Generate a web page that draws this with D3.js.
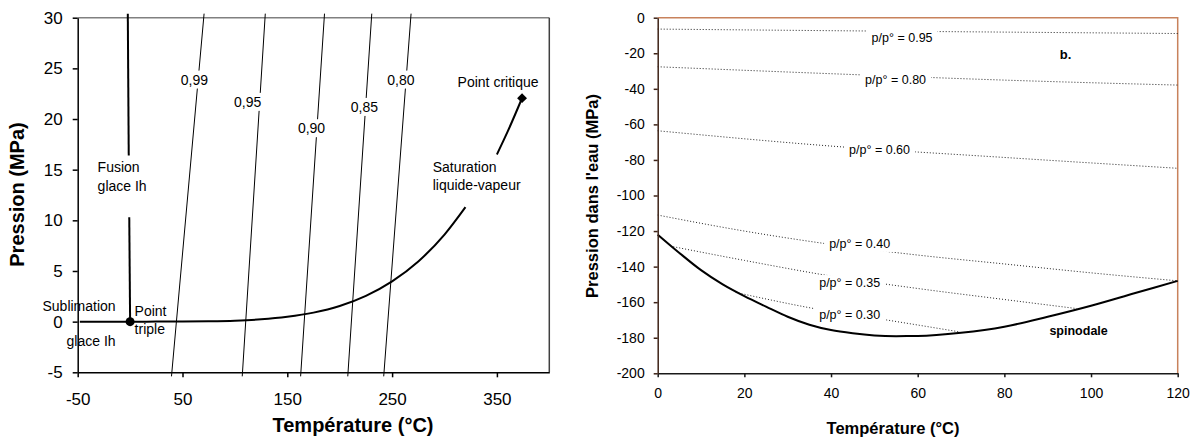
<!DOCTYPE html>
<html>
<head>
<meta charset="utf-8">
<script src="https://cdn.jsdelivr.net/npm/d3@7"></script>
<style>
  body { margin: 0; background: #fff; }
  svg text { font-family: "Liberation Sans", Arial, sans-serif; fill: #000; }
</style>
</head>
<body>
<svg id="chart" width="1199" height="439"></svg>
<script>
// ---- left panel : phase diagram (T in °C, P in MPa)
const satLowT = [0.01, 25, 50, 75, 100, 125, 150, 175, 200, 225, 250, 275, 300, 320];
const satLowP = [0.0006, 0.003, 0.012, 0.039, 0.10, 0.23, 0.48, 0.89, 1.55, 2.55, 3.98, 5.94, 8.59, 11.3];
const satUpT = [350, 360, 374];
const satUpP = [16.5, 18.7, 22.06];
const fusionLowT = [0.01, -0.8];
const fusionLowP = [0, 10.3];
const fusionUpT = [-1.3, -2.2];
const fusionUpP = [16.4, 30.4];
const sublT = [-48, 0.01];
const sublP = [0, 0];
const triplePoint = [0.01, 0];
const criticalPoint = [374, 22.06];
const isoNames = ["0,99", "0,95", "0,90", "0,85", "0,80"];
const isoTopT = [70.6, 129, 185.5, 230.6, 268.1];
const isoBotT = [39.5, 107, 162.7, 207.7, 242];
const isoTopP = 30.4;
const isoBotP = -5.4;
const isoLabelT = [61.4, 112.2, 173.1, 223.6, 258.4];
const isoLabelP = [23.4, 21.2, 18.6, 20.7, 23.4];
const leftXTicks = [-50, 50, 150, 250, 350];
const leftYTicks = [-5, 0, 5, 10, 15, 20, 25, 30];

// ---- right panel : water pressure vs temperature
const spinT = [0, 5, 10, 15, 20, 25, 30, 35, 40, 45, 50, 55, 60, 70, 80, 90, 100, 110, 120];
const spinP = [-122, -132.3, -142, -150, -156.6, -162.5, -168.2, -172.7, -175.7, -177.5, -178.7, -179.1, -179, -177.2, -173.8, -168.2, -162, -155, -148];
const rhNames = ["p/p° = 0.95", "p/p° = 0.80", "p/p° = 0.60", "p/p° = 0.40", "p/p° = 0.35", "p/p° = 0.30"];
const rh95T = [0, 40, 80, 120], rh95P = [-6.4, -7.3, -8.1, -8.9];
const rh80T = [0, 40, 80, 120], rh80P = [-27.6, -31.5, -35.1, -37.9];
const rh60T = [0, 40, 80, 120], rh60P = [-63.6, -72.2, -78.6, -84.7];
const rh40T = [0, 20, 40, 60, 80, 100, 120], rh40P = [-111, -120, -127.5, -133.5, -138.5, -143.5, -148];
const rh35T = [3.6, 20, 40, 60, 80, 96.7], rh35P = [-128.8, -136.5, -145.3, -152.3, -158.5, -163.6];
const rh30T = [18, 35.9, 52.8, 69.4], rh30P = [-154.5, -163.5, -170, -176.6];
const rhLabelT = [56.4, 54.9, 51.2, 46.6, 44.3, 44.3];
const rhLabelP = [-13.4, -37.3, -76.4, -129.5, -151.5, -169.2];
const rightXTicks = [0, 20, 40, 60, 80, 100, 120];
const rightYTicks = d3.range(-200, 1, 20);

const zip = (xs, ys) => xs.map((x, i) => [x, ys[i]]);
const plain = (d) => String(d); // ascii hyphen for negatives, as in the original
const svg = d3.select("#chart");

// ================= left panel
const xL = d3.scaleLinear().domain([-50, 400]).range([77.7, 549.3]);
const yL = d3.scaleLinear().domain([-5, 30]).range([372.3, 17.7]);
const gL = svg.append("g");
const lineL = d3.line().x((d) => xL(d[0])).y((d) => yL(d[1]));

// frame
gL.append("line")
  .attr("x1", xL(-50)).attr("x2", xL(400))
  .attr("y1", yL(30)).attr("y2", yL(30))
  .style("stroke", "#808080").style("stroke-width", 1.5);
gL.append("line")
  .attr("x1", xL(400)).attr("x2", xL(400))
  .attr("y1", yL(30)).attr("y2", yL(-5))
  .style("stroke", "#404040").style("stroke-width", 1.5);

const axL = gL.append("g")
  .attr("transform", `translate(0,${yL(-5)})`)
  .call(d3.axisBottom(xL).tickValues(leftXTicks).tickFormat(plain).tickSize(5).tickPadding(16).tickSizeOuter(0));
const ayL = gL.append("g")
  .attr("transform", `translate(${xL(-50)},0)`)
  .call(d3.axisLeft(yL).tickValues(leftYTicks).tickFormat(plain).tickSize(5).tickPadding(10).tickSizeOuter(0));
[axL, ayL].forEach((a) => {
  a.attr("font-family", null).attr("font-size", 17);
  a.selectAll("path,line").style("stroke", "#000").style("stroke-width", 1.5);
});

// iso-activity lines (thin)
gL.selectAll(".iso")
  .data(isoNames)
  .enter()
  .append("path")
  .attr("class", "iso")
  .attr("d", (d, i) => lineL([[isoBotT[i], isoBotP], [isoTopT[i], isoTopP]]))
  .style("fill", "none").style("stroke", "#000").style("stroke-width", 1);

// labels with white box behind (breaks the lines)
const labelWithBox = (g, x, y, txt, size, anchor, padX, padY, weight) => {
  const t = g.append("text")
    .attr("x", x).attr("y", y)
    .attr("font-size", size)
    .attr("text-anchor", anchor)
    .attr("font-weight", weight || "normal")
    .text(txt);
  const b = t.node().getBBox();
  g.insert("rect", "text")
    .attr("x", b.x - padX).attr("y", b.y - padY)
    .attr("width", b.width + 2 * padX).attr("height", b.height + 2 * padY)
    .style("fill", "#fff");
  return t;
};
const gLabL = gL.append("g");
isoNames.forEach((n, i) => {
  labelWithBox(gLabL, xL(isoLabelT[i]), yL(isoLabelP[i]), n, 14, "middle", 2, 1);
});

// curves
[zip(satLowT, satLowP), zip(satUpT, satUpP), zip(fusionLowT, fusionLowP), zip(fusionUpT, fusionUpP), zip(sublT, sublP)]
  .forEach((seg) => {
    gL.append("path")
      .attr("d", lineL.curve(d3.curveMonotoneX)(seg))
      .style("fill", "none").style("stroke", "#000").style("stroke-width", 2);
  });
lineL.curve(d3.curveLinear);

gL.append("circle")
  .attr("cx", xL(triplePoint[0])).attr("cy", yL(triplePoint[1]))
  .attr("r", 4.5).style("fill", "#000");
gL.append("rect")
  .attr("x", -3.5).attr("y", -3.5).attr("width", 7).attr("height", 7)
  .attr("transform", `translate(${xL(criticalPoint[0])},${yL(criticalPoint[1])}) rotate(45)`)
  .style("fill", "#000");

const annL = [
  { t: "Point critique", x: 312.5, y: 23.2, a: "start" },
  { t: "Saturation", x: 288.7, y: 14.8, a: "start" },
  { t: "liquide-vapeur", x: 288.7, y: 13.0, a: "start" },
  { t: "Fusion", x: -31, y: 14.8, a: "start" },
  { t: "glace Ih", x: -31, y: 12.9, a: "start" },
  { t: "Sublimation", x: -13.8, y: 1.09, a: "end" },
  { t: "glace Ih", x: -13.8, y: -2.37, a: "end" },
  { t: "Point", x: 4.3, y: 0.6, a: "start" },
  { t: "triple", x: 4.3, y: -1.23, a: "start" },
];
gL.selectAll(".ann")
  .data(annL)
  .enter()
  .append("text")
  .attr("class", "ann")
  .attr("x", (d) => xL(d.x)).attr("y", (d) => yL(d.y))
  .attr("text-anchor", (d) => d.a)
  .attr("font-size", 14)
  .text((d) => d.t);

gL.append("text")
  .attr("transform", "translate(24,194.5) rotate(-90)")
  .attr("text-anchor", "middle")
  .attr("font-size", 20).attr("font-weight", "bold")
  .text("Pression (MPa)");
gL.append("text")
  .attr("x", 353).attr("y", 432)
  .attr("text-anchor", "middle")
  .attr("font-size", 20).attr("font-weight", "bold")
  .text("Température (°C)");

// ================= right panel
const xR = d3.scaleLinear().domain([0, 120]).range([657.7, 1177.7]);
const yR = d3.scaleLinear().domain([-200, 0]).range([373.3, 17.7]);
const gR = svg.append("g");
const lineR = d3.line().x((d) => xR(d[0])).y((d) => yR(d[1])).curve(d3.curveMonotoneX);

gR.append("path")
  .attr("d", `M${xR(0)},${yR(0)}H${xR(120)}V${yR(-200)}`)
  .style("fill", "none").style("stroke", "#c8825c").style("stroke-width", 1.5);

const rhSeries = [zip(rh95T, rh95P), zip(rh80T, rh80P), zip(rh60T, rh60P), zip(rh40T, rh40P), zip(rh35T, rh35P), zip(rh30T, rh30P)];
gR.selectAll(".rh")
  .data(rhSeries)
  .enter()
  .append("path")
  .attr("class", "rh")
  .attr("d", (d) => lineR(d))
  .style("fill", "none").style("stroke", "#222").style("stroke-width", 1)
  .style("stroke-dasharray", "1,2");

const gLabR = gR.append("g");
rhNames.forEach((n, i) => {
  labelWithBox(gLabR, xR(rhLabelT[i]), yR(rhLabelP[i]), n, 12.5, "middle", 5, 1);
});

gR.append("path")
  .attr("d", lineR(zip(spinT, spinP)))
  .style("fill", "none").style("stroke", "#000").style("stroke-width", 2);

const axR = gR.append("g")
  .attr("transform", `translate(0,${yR(-200)})`)
  .call(d3.axisBottom(xR).tickValues(rightXTicks).tickFormat(plain).tickSize(4).tickPadding(11).tickSizeOuter(0));
const ayR = gR.append("g")
  .attr("transform", `translate(${xR(0)},0)`)
  .call(d3.axisLeft(yR).tickValues(rightYTicks).tickFormat(plain).tickSize(4).tickPadding(9).tickSizeOuter(0));
axR.attr("font-family", null).attr("font-size", 14);
ayR.attr("font-family", null).attr("font-size", 14);
axR.selectAll("path,line").style("stroke", "#1a1a1a").style("stroke-width", 1.5);
ayR.selectAll("path,line").style("stroke", "#3d2216").style("stroke-width", 1.5);

gR.append("text")
  .attr("x", xR(92.8)).attr("y", yR(-23.5))
  .attr("font-size", 13).attr("font-weight", "bold")
  .text("b.");
gR.append("text")
  .attr("x", xR(90.4)).attr("y", yR(-178.7))
  .attr("font-size", 12.5).attr("font-weight", "bold")
  .text("spinodale");

gR.append("text")
  .attr("transform", "translate(598,196) rotate(-90)")
  .attr("text-anchor", "middle")
  .attr("font-size", 16.5).attr("font-weight", "bold")
  .text("Pression dans l'eau (MPa)");
gR.append("text")
  .attr("x", 893).attr("y", 434)
  .attr("text-anchor", "middle")
  .attr("font-size", 16.5).attr("font-weight", "bold")
  .text("Température (°C)");
</script>
</body>
</html>
